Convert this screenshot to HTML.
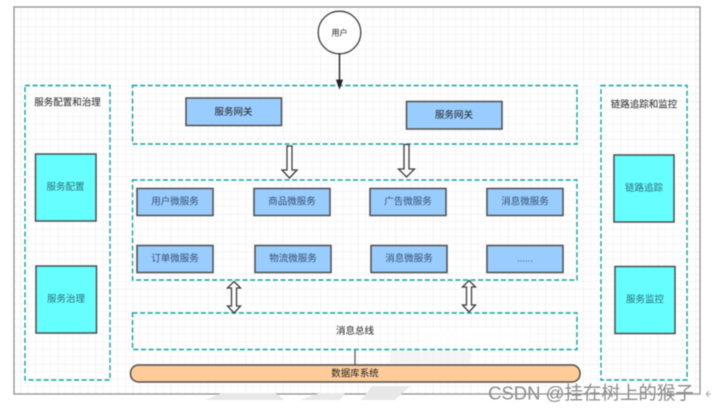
<!DOCTYPE html>
<html><head><meta charset="utf-8">
<style>
html,body{margin:0;padding:0;background:#fff;width:712px;height:412px;overflow:hidden}
svg{display:block;filter:blur(.4px)}
text{font-family:"Liberation Sans","Noto Sans CJK SC",sans-serif;font-size:9.5px;fill:#222;text-anchor:middle;dominant-baseline:central}
.p{fill:none;stroke:#12a5a0;stroke-width:1.4;stroke-dasharray:5 2.6}
.b{fill:#99ccff;stroke:#4d4d4d;stroke-width:1.5}
.c{fill:#66ffff;stroke:#4d4d4d;stroke-width:1.5}
.a{fill:#fff;stroke:#3c3c3c;stroke-width:1.3}
.t{fill:#2b6f78}
.m{fill:#38506e}
</style></head><body>
<svg width="712" height="412" viewBox="0 0 712 412" xmlns="http://www.w3.org/2000/svg">
<defs>
<pattern id="g" x="20.5" y="26.5" width="37.5" height="37.5" patternUnits="userSpaceOnUse">
<path d="M7.5 0V37.5M15 0V37.5M22.5 0V37.5M30 0V37.5M0 7.5H37.5M0 15H37.5M0 22.5H37.5M0 30H37.5" stroke="#f4f4f4" stroke-width=".8" fill="none"/>
<path d="M0 0V37.5M0 0H37.5" stroke="#e9e9e9" stroke-width="1" fill="none"/>
</pattern>
</defs>
<rect x="14" y="7" width="686" height="387" fill="url(#g)" stroke="#8f8f8f" stroke-width="1.3"/>

<!-- faded watermark -->
<g fill="#e8e8e8">
<path d="M205 400L222 393H275L285 400Z"/>
<path d="M300 400L320 393H345L340 400Z"/>
<path d="M361 400L372 386H410L395 400Z"/>
</g>
<rect x="420" y="328" width="110" height="21" fill="#fff" opacity=".9"/>
<rect x="390" y="351" width="80" height="12" fill="#efefef" opacity=".7"/>

<rect class="p" x="25" y="85.5" width="85" height="294.5"/>
<rect class="p" x="132.5" y="85.5" width="444.5" height="58.5"/>
<rect class="p" x="132.5" y="180" width="444.5" height="100"/>
<rect class="p" x="132.5" y="313" width="444.5" height="36.5"/>
<rect class="p" x="601" y="85.5" width="86" height="294.5"/>

<text x="67.5" y="103">服务配置和治理</text>
<text x="644" y="105">链路追踪和监控</text>

<circle cx="339.5" cy="32.5" r="21.3" fill="#fff" stroke="#3c3c3c" stroke-width="1.3"/>
<text x="339.5" y="33" style="font-size:8px">用户</text>
<path d="M339.5 53.5V81" stroke="#222" stroke-width="1.4"/>
<path d="M336.5 80H342.5L339.5 88.5Z" fill="#222" stroke="#222" stroke-width=".8"/>

<rect class="b" x="186" y="98" width="95.5" height="27.5"/>
<text x="233.5" y="112.5">服务网关</text>
<rect class="b" x="406.5" y="101.5" width="95.5" height="27.5"/>
<text x="454" y="115.5">服务网关</text>

<rect class="c" x="35.5" y="154" width="60.5" height="67"/>
<text class="t" x="65.5" y="187.5">服务配置</text>
<rect class="c" x="36" y="266" width="60.5" height="67"/>
<text class="t" x="66" y="299.5">服务治理</text>
<rect class="c" x="614" y="155" width="60" height="67"/>
<text class="t" x="644" y="188.5">链路追踪</text>
<rect class="c" x="615" y="266.5" width="60" height="67"/>
<text class="t" x="645" y="300">服务监控</text>

<rect class="b" x="137" y="188.5" width="76" height="27"/><text class="m" x="175" y="202">用户微服务</text>
<rect class="b" x="254" y="188.5" width="76" height="27"/><text class="m" x="292" y="202">商品微服务</text>
<rect class="b" x="370" y="188.5" width="76" height="27"/><text class="m" x="408" y="202">广告微服务</text>
<rect class="b" x="487" y="188.5" width="76" height="27"/><text class="m" x="525" y="202">消息微服务</text>
<rect class="b" x="137" y="245.5" width="76" height="27"/><text class="m" x="175" y="259">订单微服务</text>
<rect class="b" x="255" y="245.5" width="76" height="27"/><text class="m" x="293" y="259">物流微服务</text>
<rect class="b" x="371" y="245.5" width="76" height="27"/><text class="m" x="409" y="259">消息微服务</text>
<rect class="b" x="487" y="245.5" width="76" height="27"/><text class="m" x="525" y="259">......</text>

<path class="a" d="M287 146H292V170H297L289.5 178L282 170H287Z"/>
<path class="a" d="M404 144.5H409V169H414.5L406.5 177L398.5 169H404Z"/>
<path class="a" d="M234 281.5L240.5 288H236.5V306H240.5L234 313L227.5 306H231.5V288H227.5Z"/>
<path class="a" d="M469 280.5L475.5 287H471.5V305H475.5L469 312L462.5 305H466.5V287H462.5Z"/>

<text x="355" y="331.5">消息总线</text>
<path d="M355 349.5V365" stroke="#777" stroke-width="1.6"/>
<rect x="130.5" y="365" width="449.5" height="17" rx="8" fill="#ffcc99" stroke="#4d4d4d" stroke-width="1.5"/>
<text x="355" y="374">数据库系统</text>

<text x="591" y="393" style="font-size:18.5px;fill:#8c8c8c">CSDN @挂在树上的猴子</text>
<path d="M711 394H706M706 394L709 391M706 394L709 397" stroke="#aaa" fill="none"/>
</svg>
</body></html>
